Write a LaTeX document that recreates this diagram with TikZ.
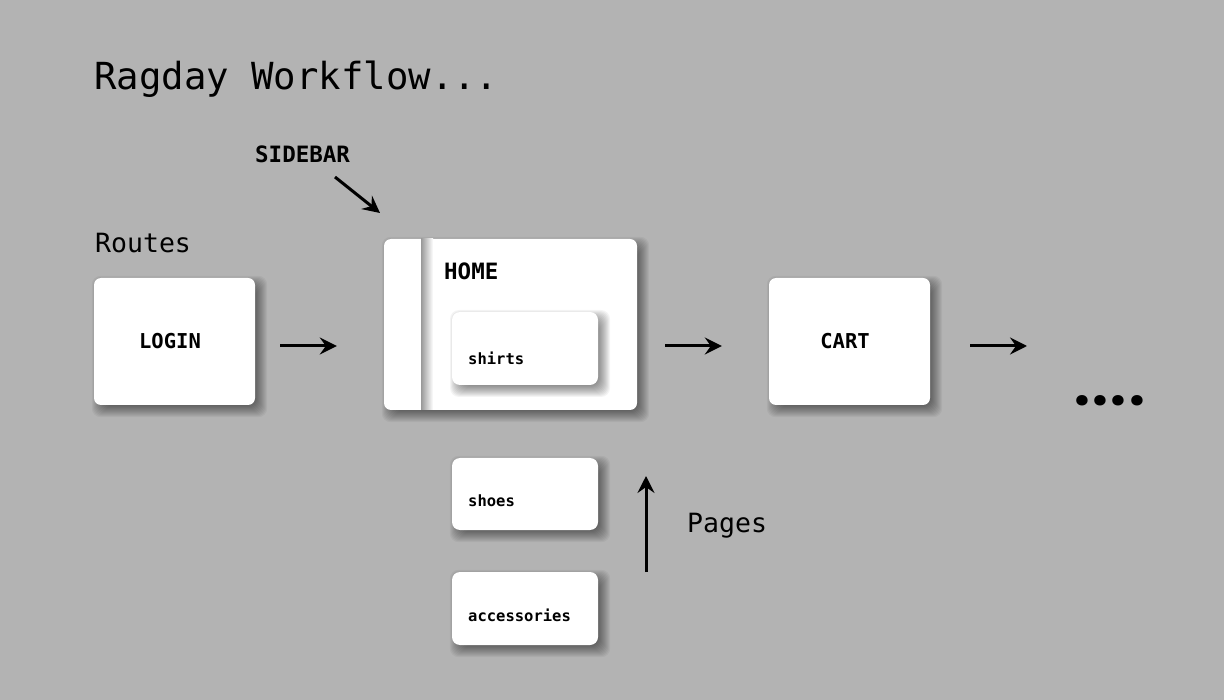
\documentclass[tikz,border=0pt]{standalone}
\usepackage{fontspec}
\setmonofont{DejaVu Sans Mono}
\newfontfamily\dotfont{Poppins}
\usetikzlibrary{arrows.meta}
\definecolor{bg}{HTML}{B3B3B3}
\pgfdeclarelayer{bglayer}
\pgfdeclarelayer{shadowlayer}
\pgfsetlayers{bglayer,shadowlayer,main}
\tikzset{
  card/.style={draw=none, fill=white, rounded corners=7pt, inner sep=0pt},
  arr/.style={line width=3pt, -{Stealth[length=17pt,width=17pt,inset=6pt]}},
  lbl/.style={font=\ttfamily, anchor=base west, inner sep=0pt},
  shadowpiece/.style={fill=black, fill opacity=0.045, rounded corners=9pt},
}
\newcommand{\softshadow}[1]{%
  \begin{pgfonlayer}{shadowlayer}
  \foreach \e in {-4,-3,...,7}{
    \fill[shadowpiece] ([shift={(5-\e,5-\e)}]#1.north west) rectangle ([shift={(5+\e,5+\e)}]#1.south east);
  }
  \end{pgfonlayer}}
\begin{document}
\begin{tikzpicture}[x=1pt,y=-1pt]
\begin{pgfonlayer}{bglayer}
\fill[bg] (0,0) rectangle (1224,700);
\end{pgfonlayer}
\useasboundingbox (0,0) rectangle (1224,700);

% title and labels
\node[lbl, font=\ttfamily\fontsize{37.3}{40}\selectfont] (title) at (94,90) {Ragday Workflow...};
\node[lbl, font=\ttfamily\fontsize{26.5}{30}\selectfont] (routes) at (95,253) {Routes};
\node[lbl, font=\ttfamily\bfseries\fontsize{22.5}{26}\selectfont] (sidebar) at (255,163) {SIDEBAR};
\node[lbl, font=\ttfamily\fontsize{26.5}{30}\selectfont] (pages) at (687,532) {Pages};

% boxes
\node[card, minimum width=161pt, minimum height=127pt, font=\ttfamily\bfseries\fontsize{20.5}{24}\selectfont] (login) at (174.5,341.5) {\hspace*{-9pt}LOGIN};
\softshadow{login}
\node[card, minimum width=253pt, minimum height=171pt] (home) at (510.5,324.5) {};
\softshadow{home}
\shade[left color=black!40, right color=white] (421,239) rectangle (433,410);
\node[lbl, font=\ttfamily\bfseries\fontsize{22.5}{26}\selectfont] (homet) at (444,280) {HOME};
\begin{scope}
\clip (421,239) rectangle (637,410);
\foreach \e in {-4,-3,...,7}{
  \fill[shadowpiece] ([shift={(5-\e,5-\e)}]452,312) rectangle ([shift={(5+\e,5+\e)}]598,385);
}
\end{scope}
\node[card, minimum width=146pt, minimum height=73pt, rounded corners=8pt] (shirts) at (525,348.5) {};
\node[lbl, font=\ttfamily\bfseries\fontsize{15.5}{18}\selectfont] (shirtst) at (468,365) {shirts};
\node[card, minimum width=161pt, minimum height=127pt, font=\ttfamily\bfseries\fontsize{20.5}{24}\selectfont] (cart) at (849.5,341.5) {\hspace*{-9pt}CART};
\softshadow{cart}
\node[card, minimum width=146pt, minimum height=72pt, rounded corners=8pt] (shoes) at (525,494) {};
\softshadow{shoes}
\node[lbl, font=\ttfamily\bfseries\fontsize{15.5}{18}\selectfont] (shoest) at (468,506) {shoes};
\node[card, minimum width=146pt, minimum height=73pt, rounded corners=8pt] (acc) at (525,608.5) {};
\softshadow{acc}
\node[lbl, font=\ttfamily\bfseries\fontsize{15.5}{18}\selectfont] (acct) at (468,621) {accessories};

\node[lbl, font=\dotfont\bfseries\fontsize{56}{60}\selectfont] (dots) at (1074,406) {.\kern2.5pt.\kern2.5pt.\kern2.5pt.};

% connectors
\coordinate (next) at (1027,346);
\coordinate (pgA) at (646,572);
\coordinate (pgB) at (646,476);
\coordinate (sbA) at (335,177);
\coordinate (sbB) at (380,213);
\draw[arr, shorten <=25pt, shorten >=47pt] ([yshift=-4.5pt]login.east) -- ([yshift=-4.5pt]login.east -| home.west);
\draw[arr, shorten <=28pt, shorten >=47pt] ([yshift=-4.5pt]cart.west -| home.east) -- ([yshift=-4.5pt]cart.west);
\draw[arr, shorten <=40pt] ([yshift=-4.5pt]cart.east) -- (next);
\draw[arr] (pgA) -- (pgB);
\draw[arr] (sbA) -- (sbB);
\end{tikzpicture}
\end{document}
